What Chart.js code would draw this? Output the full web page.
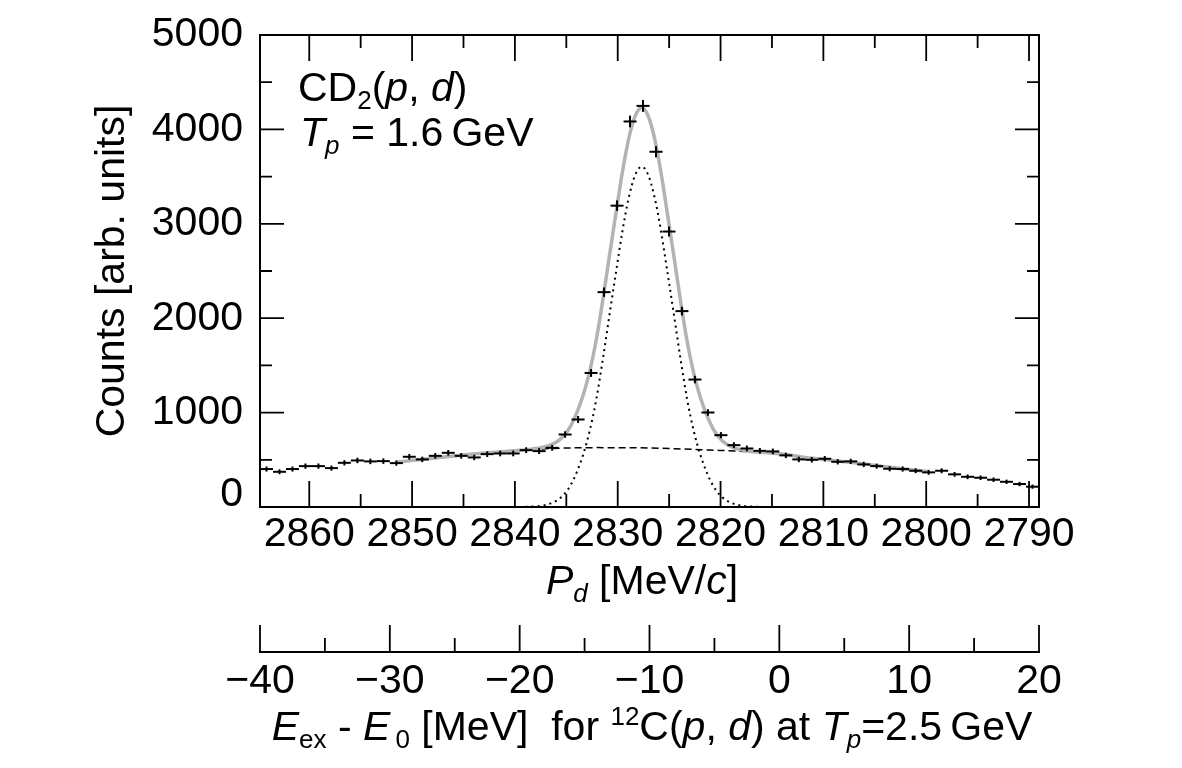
<!DOCTYPE html>
<html>
<head>
<meta charset="utf-8">
<script src="https://cdn.jsdelivr.net/npm/chart.js@4.4.1/dist/chart.umd.min.js"></script>
<style>
html, body { margin: 0; padding: 0; background: #fff; }
canvas { display: block; }
</style>
</head>
<body>
<canvas id="chart" width="1182" height="768"></canvas>
<script>
// histogram: 1 MeV bins in E_ex - E_0
const binCenters = [
  -39.5, -38.5, -37.5, -36.5, -35.5, -34.5, -33.5, -32.5, -31.5, -30.5,
  -29.5, -28.5, -27.5, -26.5, -25.5, -24.5, -23.5, -22.5, -21.5, -20.5,
  -19.5, -18.5, -17.5, -16.5, -15.5, -14.5, -13.5, -12.5, -11.5, -10.5,
  -9.5, -8.5, -7.5, -6.5, -5.5, -4.5, -3.5, -2.5, -1.5, -0.5,
  0.5, 1.5, 2.5, 3.5, 4.5, 5.5, 6.5, 7.5, 8.5, 9.5,
  10.5, 11.5, 12.5, 13.5, 14.5, 15.5, 16.5, 17.5, 18.5, 19.5
];
const counts = [
  402, 373, 402, 433, 433, 412, 468, 493, 483, 486,
  465, 532, 504, 542, 574, 542, 525, 560, 567, 567,
  602, 592, 627, 768, 927, 1420, 2276, 3192, 4084, 4249,
  3763, 2918, 2075, 1350, 1001, 761, 655, 620, 595, 589,
  547, 504, 500, 511, 479, 483, 451, 433, 405, 402,
  384, 367, 384, 346, 320, 310, 289, 267, 243, 215
];
const countErrors = [
  27, 26, 27, 28, 28, 27, 28, 29, 29, 29,
  28, 30, 29, 30, 30, 30, 29, 30, 30, 30,
  31, 31, 31, 34, 37, 42, 50, 56, 62, 63,
  59, 53, 46, 40, 35, 32, 31, 31, 30, 30,
  29, 29, 29, 29, 28, 28, 28, 27, 27, 27,
  26, 26, 26, 25, 25, 24, 24, 23, 23, 22
];

// full fit (grey)
const fitX = [
  -29.5, -28, -26, -24, -22, -20, -19.1, -18.6, -18.1, -17.6,
  -17.1, -16.6, -16.1, -15.6, -15.1, -14.6, -14.1, -13.6, -13.1, -12.6,
  -12.1, -11.6, -11.1, -10.6, -10.1, -9.6, -9.1, -8.6, -8.1, -7.6,
  -7.1, -6.6, -6.1, -5.6, -5.1, -4.6, -4.1, -3.6, -3.1, -2.6,
  -2, -1, 0, 2, 4, 6, 8, 10, 11.5
];
const fitTotal = [
  476, 497, 527, 555, 580, 600, 613, 622, 635, 658,
  694, 754, 851, 997, 1188, 1439, 1769, 2189, 2649, 3098,
  3538, 3903, 4144, 4230, 4142, 3899, 3531, 3089, 2637, 2175,
  1753, 1420, 1167, 975, 827, 730, 669, 632, 610, 598,
  586, 576, 565, 525, 495, 465, 430, 398, 375
];

// background component (dashed)
const bgX = [-20, -18, -16, -14, -12, -10, -8, -6, -4, -2];
const bgCurve = [600, 617, 626, 629, 628, 625, 617, 607, 596, 584];

// peak component (dotted)
const peakX = [
  -20, -19.6, -18.6, -18.1, -17.6, -17.1, -16.6, -16.1, -15.6, -15.1,
  -14.6, -14.1, -13.6, -13.1, -12.6, -12.1, -11.6, -11.1, -10.6, -10.1,
  -9.6, -9.1, -8.6, -8.1, -7.6, -7.1, -6.6, -6.1, -5.6, -5.1,
  -4.6, -4.1, -3.6, -3.1, -2.6, -1.6, -1
];
const peakCurve = [
  0, 2, 9, 19, 38, 72, 130, 225, 370, 560,
  810, 1140, 1560, 2020, 2470, 2910, 3276, 3518, 3605, 3518,
  3276, 2910, 2470, 2020, 1560, 1140, 810, 560, 370, 225,
  130, 72, 38, 19, 9, 2, 0
];

const pdTicks = [2860, 2850, 2840, 2830, 2820, 2810, 2800, 2790];
const exTicks = [-40, -30, -20, -10, 0, 10, 20];
const countTicks = [0, 1000, 2000, 3000, 4000, 5000];

const FONT = '"Liberation Sans", Arial, Helvetica, sans-serif';
const SIZE = 41;
Chart.defaults.color = '#000';
Chart.defaults.font.family = FONT;

function pts(xs, ys) {
  return ys.map((v, i) => ({ x: xs[i], y: v }));
}

function minusLabel(v) {
  return v < 0 ? '\u2212' + Math.abs(v) : String(v);
}

// ROOT style frame with inward ticks on all sides, plus ticks of the lower energy axis
const frameTicks = {
  id: 'frameTicks',
  afterDatasetsDraw(chart) {
    const { ctx, chartArea: a, scales } = chart;
    const pd = scales.xPd, ex = scales.x, y = scales.y;
    ctx.save();
    ctx.strokeStyle = '#000';
    ctx.lineWidth = 1.8;
    ctx.beginPath();
    for (let v = 2790; v < 2865; v += 5) {
      const px = pd.getPixelForValue(v);
      const len = v % 10 === 0 ? 26 : 13;
      ctx.moveTo(px, a.bottom); ctx.lineTo(px, a.bottom - len);
      ctx.moveTo(px, a.top); ctx.lineTo(px, a.top + len);
    }
    for (let v = 500; v < 5000; v += 500) {
      const py = y.getPixelForValue(v);
      const len = v % 1000 === 0 ? 24 : 12;
      ctx.moveTo(a.left, py); ctx.lineTo(a.left + len, py);
      ctx.moveTo(a.right, py); ctx.lineTo(a.right - len, py);
    }
    for (let v = -40; v <= 20; v += 5) {
      const px = ex.getPixelForValue(v);
      const len = v % 10 === 0 ? 27 : 14;
      ctx.moveTo(px, ex.top); ctx.lineTo(px, ex.top - len);
    }
    ctx.stroke();
    ctx.lineWidth = 2;
    ctx.strokeRect(a.left, a.top, a.right - a.left, a.bottom - a.top);
    ctx.restore();
  }
};

function drawRich(ctx, runs, x, y, align) {
  const fontOf = r => (r.i ? 'italic ' : '') + (r.s ? Math.round(SIZE * 0.64) : SIZE) + 'px ' + FONT;
  const widths = runs.map(r => { ctx.font = fontOf(r); return ctx.measureText(r.t).width; });
  const total = widths.reduce((s, w) => s + w, 0);
  let cx = align === 'center' ? x - total / 2 : x;
  runs.forEach((r, k) => {
    ctx.font = fontOf(r);
    const dy = r.s === 'sub' ? SIZE * 0.2 : r.s === 'sup' ? -SIZE * 0.36 : 0;
    ctx.fillText(r.t, cx, y + dy);
    cx += widths[k];
  });
}

const richText = {
  id: 'richText',
  afterDraw(chart) {
    const ctx = chart.ctx;
    ctx.save();
    ctx.fillStyle = '#000';
    ctx.textBaseline = 'alphabetic';
    ctx.textAlign = 'left';
    drawRich(ctx, [{ t: 'CD' }, { t: '2', s: 'sub' }, { t: '(' }, { t: 'p', i: 1 }, { t: ', ' },
      { t: 'd', i: 1 }, { t: ')' }], 298, 101, 'left');
    drawRich(ctx, [{ t: 'T', i: 1 }, { t: 'p', i: 1, s: 'sub' }, { t: ' = 1.6\u2009GeV' }], 300, 146, 'left');
    drawRich(ctx, [{ t: 'P', i: 1 }, { t: 'd', i: 1, s: 'sub' }, { t: ' [MeV/' }, { t: 'c', i: 1 },
      { t: ']' }], 642, 594, 'center');
    drawRich(ctx, [{ t: 'E', i: 1 }, { t: 'ex', s: 'sub' }, { t: ' - ' }, { t: 'E', i: 1 }, { t: '\u20090', s: 'sub' },
      { t: ' [MeV]  for ' }, { t: '12', s: 'sup' }, { t: 'C(' }, { t: 'p', i: 1 }, { t: ', ' }, { t: 'd', i: 1 },
      { t: ') at ' }, { t: 'T', i: 1 }, { t: 'p', i: 1, s: 'sub' }, { t: '=2.5\u2009GeV' }], 652, 740, 'center');
    ctx.restore();
  }
};

new Chart(document.getElementById('chart'), {
  type: 'line',
  data: {
    datasets: [
      {
        label: 'data',
        data: pts(binCenters, counts),
        xAxisID: 'x', yAxisID: 'y',
        showLine: false,
        pointStyle: 'line',
        pointRadius: 6.5,
        pointBorderWidth: 2,
        borderColor: '#000',
        order: 0
      },
      {
        label: 'errors',
        data: pts(binCenters, counts),
        xAxisID: 'x', yAxisID: 'y',
        showLine: false,
        pointStyle: 'line',
        pointRotation: 90,
        pointRadius: ctx => {
          const s = ctx.chart.scales.y;
          const v = counts[ctx.dataIndex];
          return Math.abs(s.getPixelForValue(v) - s.getPixelForValue(v + countErrors[ctx.dataIndex]));
        },
        pointBorderWidth: 2,
        borderColor: '#000',
        order: 1
      },
      {
        label: 'fit',
        data: pts(fitX, fitTotal),
        xAxisID: 'x', yAxisID: 'y',
        borderColor: '#b3b3b3',
        borderWidth: 3.5,
        pointRadius: 0,
        cubicInterpolationMode: 'monotone',
        order: 2
      },
      {
        label: 'background',
        data: pts(bgX, bgCurve),
        xAxisID: 'x', yAxisID: 'y',
        borderColor: '#000',
        borderWidth: 1.5,
        borderDash: [7, 4],
        pointRadius: 0,
        cubicInterpolationMode: 'monotone',
        order: 3
      },
      {
        label: 'peak',
        data: pts(peakX, peakCurve),
        xAxisID: 'x', yAxisID: 'y',
        borderColor: '#000',
        borderWidth: 2,
        borderDash: [2, 4],
        pointRadius: 0,
        cubicInterpolationMode: 'monotone',
        order: 4
      }
    ]
  },
  options: {
    responsive: false,
    animation: false,
    devicePixelRatio: 1,
    events: [],
    layout: { padding: { left: 0, right: 143, top: 35, bottom: 0 } },
    plugins: { legend: { display: false }, tooltip: { enabled: false } },
    scales: {
      x: {
        type: 'linear',
        position: 'bottom',
        weight: 1,
        min: -40,
        max: 20,
        afterBuildTicks: s => { s.ticks = exTicks.map(v => ({ value: v })); },
        afterFit: s => { s.height = 116; },
        grid: { display: false, drawTicks: false },
        border: { display: true, color: '#000', width: 2 },
        ticks: {
          autoSkip: false, maxRotation: 0, minRotation: 0, padding: 5,
          font: { size: SIZE },
          callback: v => minusLabel(v)
        }
      },
      xPd: {
        type: 'linear',
        position: 'bottom',
        weight: 0,
        min: 2789.03,
        max: 2864.79,
        reverse: true,
        afterBuildTicks: s => { s.ticks = pdTicks.map(v => ({ value: v })); },
        afterFit: s => { s.height = 145; },
        grid: { display: false, drawTicks: false },
        border: { display: false },
        ticks: {
          autoSkip: false, maxRotation: 0, minRotation: 0, padding: 3,
          font: { size: SIZE },
          callback: v => String(v)
        }
      },
      y: {
        type: 'linear',
        position: 'left',
        min: 0,
        max: 5000,
        afterBuildTicks: s => { s.ticks = countTicks.map(v => ({ value: v })); },
        afterFit: s => { s.width = 260; },
        grid: { display: false, drawTicks: false },
        border: { display: false },
        ticks: {
          padding: 17,
          font: { size: SIZE, lineHeight: 0.6 },
          // ROOT lifts the "0" label clear of the x labels
          callback: v => (v === 0 ? ['0', ''] : String(v))
        },
        title: {
          display: true,
          text: 'Counts [arb. units]',
          font: { size: SIZE },
          padding: { top: 88, bottom: 0 }
        }
      }
    }
  },
  plugins: [frameTicks, richText]
});
</script>
</body>
</html>
